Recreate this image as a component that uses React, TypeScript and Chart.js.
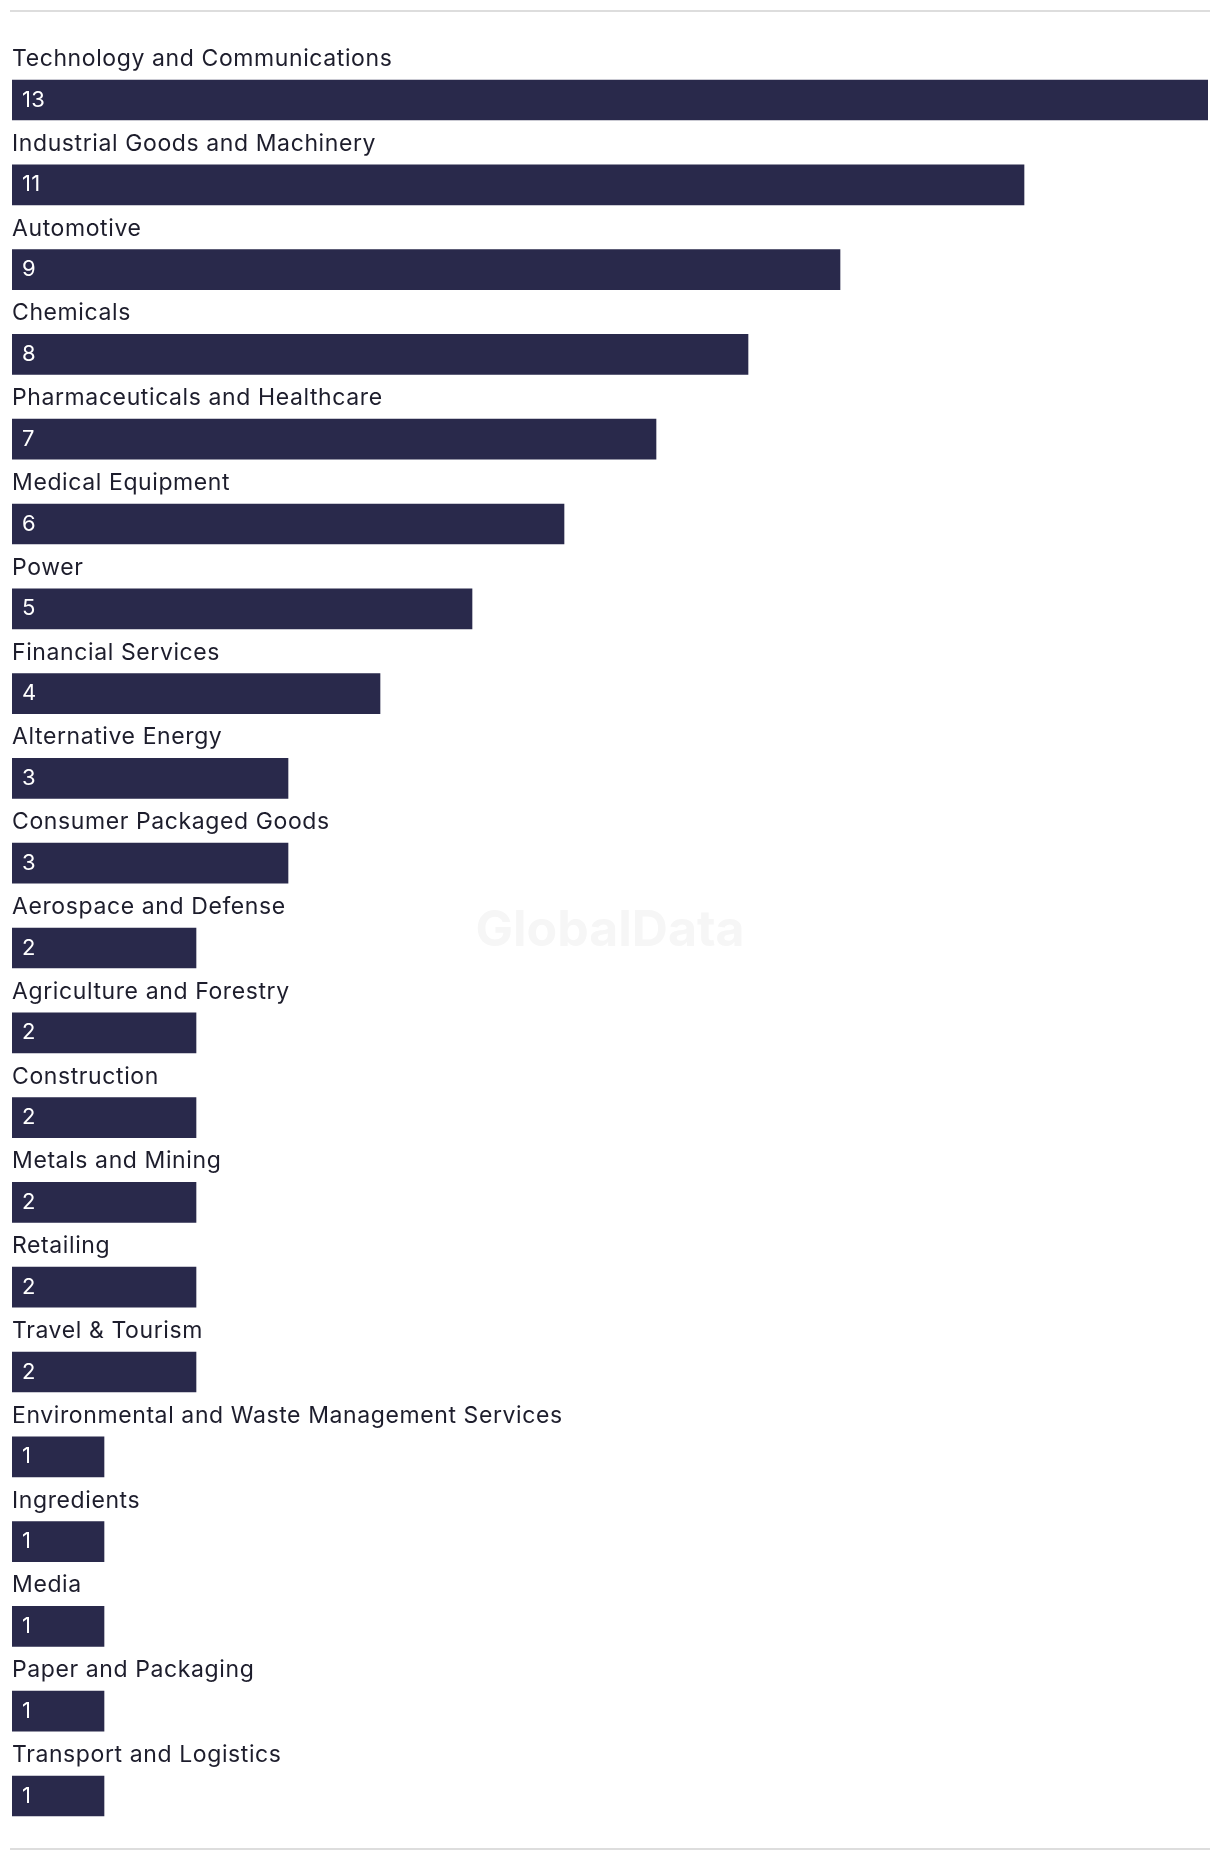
import React, { useEffect, useRef } from "react";
import { Chart, registerables } from "chart.js";

Chart.register(...registerables);

const categories: string[] = [
  "Technology and Communications",
  "Industrial Goods and Machinery",
  "Automotive",
  "Chemicals",
  "Pharmaceuticals and Healthcare",
  "Medical Equipment",
  "Power",
  "Financial Services",
  "Alternative Energy",
  "Consumer Packaged Goods",
  "Aerospace and Defense",
  "Agriculture and Forestry",
  "Construction",
  "Metals and Mining",
  "Retailing",
  "Travel & Tourism",
  "Environmental and Waste Management Services",
  "Ingredients",
  "Media",
  "Paper and Packaging",
  "Transport and Logistics",
];

const values: number[] = [13, 11, 9, 8, 7, 6, 5, 4, 3, 3, 2, 2, 2, 2, 2, 2, 1, 1, 1, 1, 1];

const axisMax = 13;

const BAR_COLOR = "#29294b";
const TEXT_COLOR = "#1d1d2c";
const FONT_FAMILY = "Inter, 'Liberation Sans', Arial, sans-serif";

const labelPlugin = {
  id: "labelPlugin",
  beforeDatasetsDraw(chart: any) {
    const ctx = chart.ctx;
    ctx.save();
    ctx.fillStyle = "#f6f6f6";
    ctx.font = `bold 50px ${FONT_FAMILY}`;
    ctx.textAlign = "center";
    ctx.textBaseline = "middle";
    ctx.fillText("GlobalData", chart.width / 2, chart.height / 2);
    ctx.restore();
  },
  afterDatasetsDraw(chart: any) {
    const ctx = chart.ctx;
    const meta = chart.getDatasetMeta(0);
    ctx.save();
    meta.data.forEach((bar: any, i: number) => {
      const h = bar.height;
      const top = bar.y - h / 2;
      ctx.fillStyle = TEXT_COLOR;
      ctx.font = `23px ${FONT_FAMILY}`;
      (ctx as any).letterSpacing = "0.6px";
      ctx.textAlign = "left";
      ctx.textBaseline = "alphabetic";
      ctx.fillText(categories[i], bar.base, top - 14);
      ctx.fillStyle = "#ffffff";
      ctx.font = `22px ${FONT_FAMILY}`;
      (ctx as any).letterSpacing = "0.3px";
      ctx.textBaseline = "middle";
      ctx.fillText(String(values[i]), bar.base + 10, bar.y);
    });
    ctx.restore();
  },
  afterDraw(chart: any) {
    const ctx = chart.ctx;
    ctx.save();
    ctx.fillStyle = "#dddddd";
    ctx.fillRect(10, 10, 1200, 2);
    ctx.fillRect(10, 1848, 1200, 2);
    ctx.restore();
  },
};

export default function App() {
  const ref = useRef<HTMLCanvasElement | null>(null);
  useEffect(() => {
    if (!ref.current) return;
    const chart = new Chart(ref.current, {
      type: "bar",
      data: {
        labels: categories,
        datasets: [
          {
            data: values,
            backgroundColor: BAR_COLOR,
            borderWidth: 0,
            barThickness: 40,
          },
        ],
      },
      options: {
        indexAxis: "y",
        responsive: false,
        animation: false,
        layout: { padding: { left: 12, right: 12, top: 57.6, bottom: 23.6 } },
        plugins: { legend: { display: false }, tooltip: { enabled: false } },
        scales: {
          x: { display: false, min: 0, max: axisMax },
          y: { display: false, offset: true },
        },
      },
      plugins: [labelPlugin],
    });
    return () => chart.destroy();
  }, []);
  return (
    <div style={{ position: "absolute", left: 0, top: 0, width: 1220, height: 1862, background: "#fff" }}>
      <canvas ref={ref} width={1220} height={1862} style={{ display: "block", width: 1220, height: 1862 }} />
    </div>
  );
}
